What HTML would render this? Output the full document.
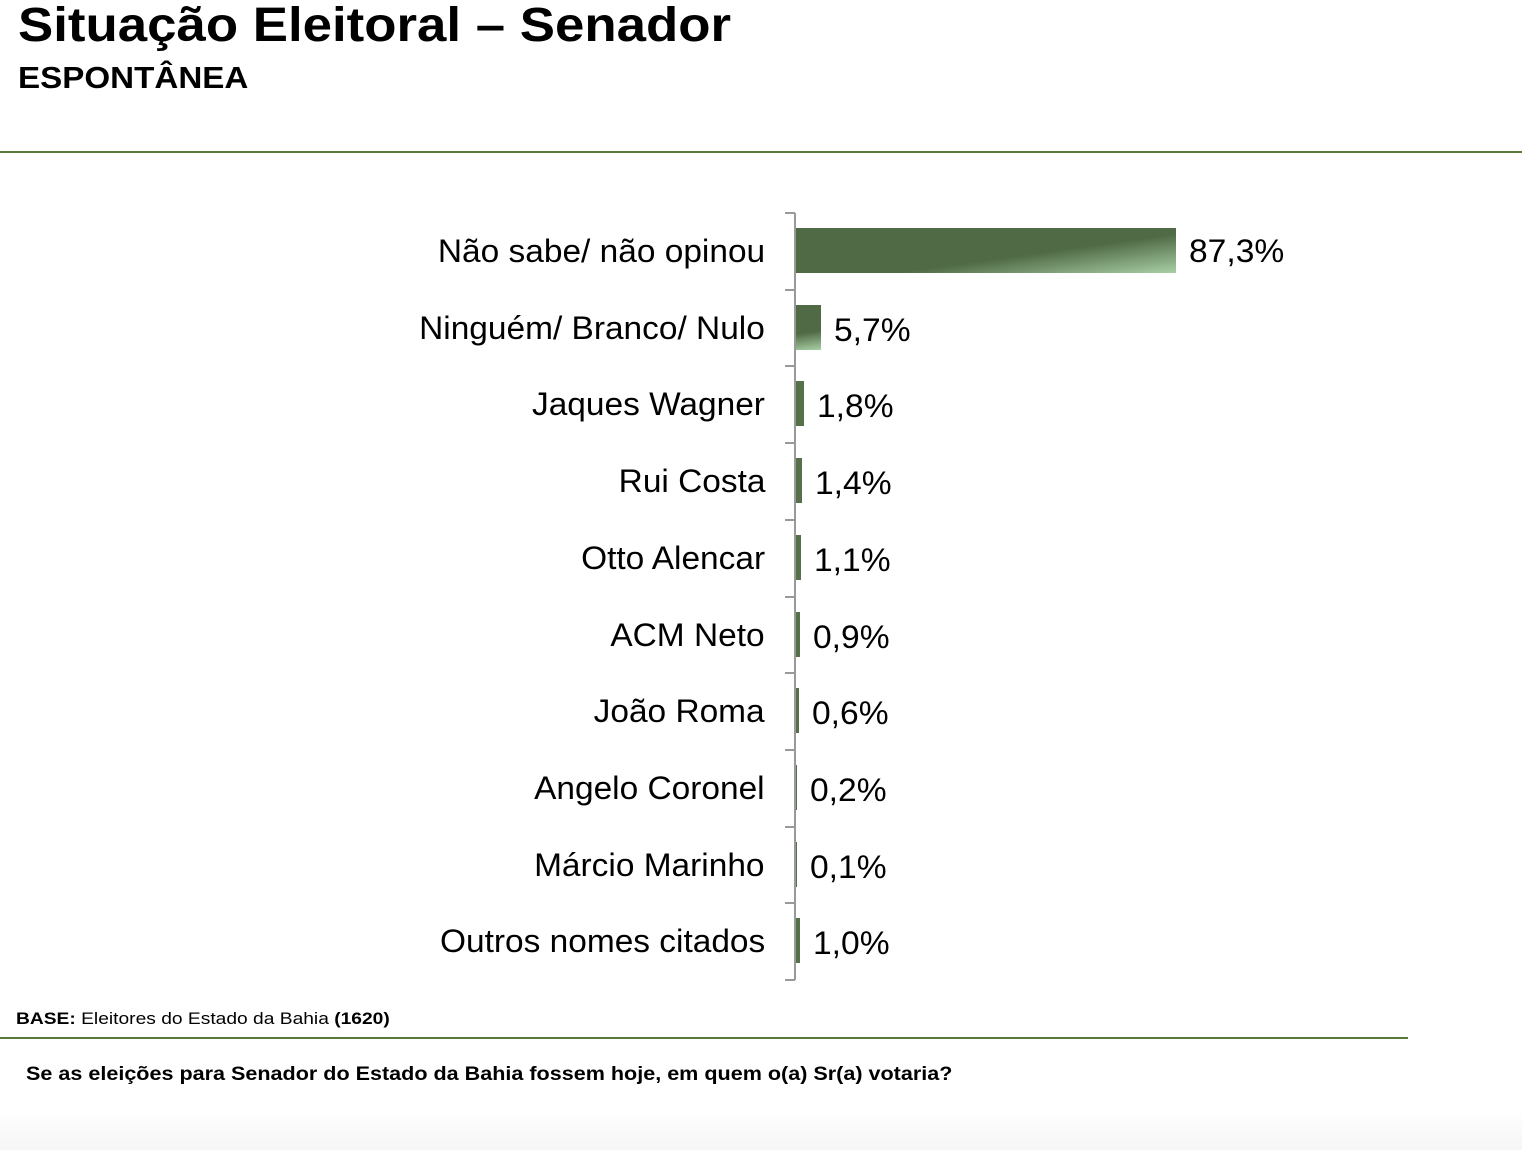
<!DOCTYPE html>
<html><head><meta charset="utf-8"><style>
body{margin:0;width:1522px;height:1150px;background:#fff;position:relative;overflow:hidden;font-family:"Liberation Sans",Arial,sans-serif;color:#000}
.a{position:absolute;white-space:nowrap}
.lab{position:absolute;right:757px;font-size:32px;line-height:40px;transform:scaleX(1.045);transform-origin:right center}
.val{position:absolute;font-size:32px;line-height:40px;transform:scaleX(1.05);transform-origin:left center}
.bar{position:absolute;left:796px;height:45px;background:linear-gradient(172deg,#4f6a45 0%,#4f6a45 60%,#a9cfa5 100%)}
.tick{position:absolute;left:785px;width:10px;height:2px;background:#999}
</style></head><body>
<div class="a" style="left:18px;top:-2px;font-size:48px;font-weight:bold;line-height:56px;transform:scaleX(1.1);transform-origin:left center">Situação Eleitoral – Senador</div>
<div class="a" style="left:18px;top:60px;font-size:31px;font-weight:bold;line-height:36px;transform:scaleX(1.07);transform-origin:left center">ESPONTÂNEA</div>
<div class="a" style="left:0;top:151px;width:1522px;height:2px;background:#5a7a3a"></div>
<div class="a" style="left:794px;top:213px;width:2px;height:767px;background:#999"></div>
<div id="c"></div>
<script>
var d=[["Não sabe/ não opinou",87.3,"87,3%"],["Ninguém/ Branco/ Nulo",5.7,"5,7%"],["Jaques Wagner",1.8,"1,8%"],["Rui Costa",1.4,"1,4%"],["Otto Alencar",1.1,"1,1%"],["ACM Neto",0.9,"0,9%"],["João Roma",0.6,"0,6%"],["Angelo Coronel",0.2,"0,2%"],["Márcio Marinho",0.1,"0,1%"],["Outros nomes citados",1.0,"1,0%"]];
var h="";
for(var i=0;i<=10;i++){h+='<div class="tick" style="top:'+(212+76.7*i)+'px"></div>';}
d.forEach(function(r,i){var cy=251+76.7*i;var w=Math.max(1,r[1]*4.35);
h+='<div class="lab" style="top:'+(cy-20)+'px">'+r[0]+'</div>';
h+='<div class="bar" style="top:'+(cy-23)+'px;width:'+w+'px'+(w<12?';background:#55704b':'')+'"></div>';
h+='<div class="val" style="left:'+(796+w+13)+'px;top:'+(cy-20+(i==0?0:2))+'px">'+r[2]+'</div>';});
document.getElementById("c").innerHTML=h;
</script>
<div class="a" style="left:16px;top:1008px;font-size:17px;line-height:22px;transform:scaleX(1.13);transform-origin:left center"><b>BASE:</b> Eleitores do Estado da Bahia <b>(1620)</b></div>
<div class="a" style="left:0;top:1037px;width:1408px;height:2px;background:#5a7a3a"></div>
<div class="a" style="left:26px;top:1063px;font-size:19px;font-weight:bold;line-height:24px;transform:scaleX(1.135);transform-origin:left center">Se as eleições para Senador do Estado da Bahia fossem hoje, em quem o(a) Sr(a) votaria?</div>
<div class="a" style="left:0;top:1110px;width:1522px;height:40px;background:linear-gradient(#fff,#f6f6f6)"></div>
</body></html>
